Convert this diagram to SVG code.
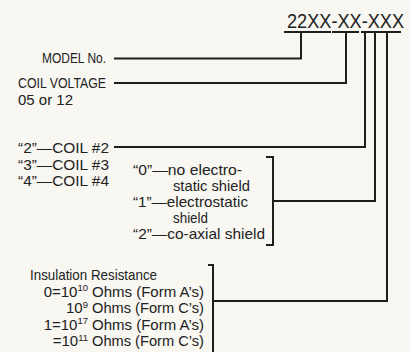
<svg xmlns="http://www.w3.org/2000/svg" width="410" height="352" viewBox="0 0 410 352">
<style>
text{font-family:"Liberation Sans Narrow","Liberation Sans",Arial,sans-serif;font-size:15px;fill:#222;}
.t{font-size:21px;}
.sup{font-size:9.5px;}
.ln{stroke:#1e1e1e;stroke-width:2;fill:none;stroke-linecap:square;}
</style>
<rect width="410" height="352" fill="#f8f7f2"/>
<g id="title"><text class="t" transform="translate(287,28) scale(0.865,1)" x="0" y="0">22XX-XX-XXX</text></g>
<g id="model"><text x="42" y="63" textLength="64" lengthAdjust="spacingAndGlyphs">MODEL No.</text></g>
<g id="voltage">
<text x="18" y="88" textLength="88" lengthAdjust="spacingAndGlyphs">COIL VOLTAGE</text>
<text x="18" y="105" textLength="55" lengthAdjust="spacingAndGlyphs">05 or 12</text>
</g>
<g id="coil">
<text x="18" y="153" textLength="91" lengthAdjust="spacingAndGlyphs">“2”—COIL #2</text>
<text x="18" y="169.5" textLength="91" lengthAdjust="spacingAndGlyphs">“3”—COIL #3</text>
<text x="18" y="186" textLength="91" lengthAdjust="spacingAndGlyphs">“4”—COIL #4</text>
</g>
<g id="shield">
<text x="133" y="175" textLength="109" lengthAdjust="spacingAndGlyphs">“0”—no electro-</text>
<text x="173" y="191" textLength="77" lengthAdjust="spacingAndGlyphs">static shield</text>
<text x="133" y="207" textLength="115" lengthAdjust="spacingAndGlyphs">“1”—electrostatic</text>
<text x="173" y="223" textLength="35" lengthAdjust="spacingAndGlyphs">shield</text>
<text x="133" y="239" textLength="132" lengthAdjust="spacingAndGlyphs">“2”—co-axial shield</text>
</g>
<g id="insulation">
<text x="30" y="280" textLength="127" lengthAdjust="spacingAndGlyphs">Insulation Resistance</text>
<text x="88" y="296.5" text-anchor="end">0=10<tspan class="sup" dy="-5.5">10</tspan></text>
<text x="88" y="313" text-anchor="end">10<tspan class="sup" dy="-5.5">9</tspan></text>
<text x="88" y="329.5" text-anchor="end">1=10<tspan class="sup" dy="-5.5">17</tspan></text>
<text x="88" y="346" text-anchor="end">=10<tspan class="sup" dy="-5.5">11</tspan></text>
<text x="92" y="296.5" textLength="112" lengthAdjust="spacingAndGlyphs">Ohms (Form A’s)</text>
<text x="92" y="313" textLength="112" lengthAdjust="spacingAndGlyphs">Ohms (Form C’s)</text>
<text x="92" y="329.5" textLength="112" lengthAdjust="spacingAndGlyphs">Ohms (Form A’s)</text>
<text x="92" y="346" textLength="112" lengthAdjust="spacingAndGlyphs">Ohms (Form C’s)</text>
</g>
<g id="connectors" class="ln">
<path d="M285 32H330M333 32H358M362 32H400"/>
<path d="M115 58.5H301V32"/>
<path d="M115 83H346V32"/>
<path d="M115 147H365V32"/>
<path d="M267 157H273V245H267"/>
<path d="M273 201H375V32"/>
<path d="M209 265H213V353"/>
<path d="M213 301H387V32"/>
</g>
</svg>
